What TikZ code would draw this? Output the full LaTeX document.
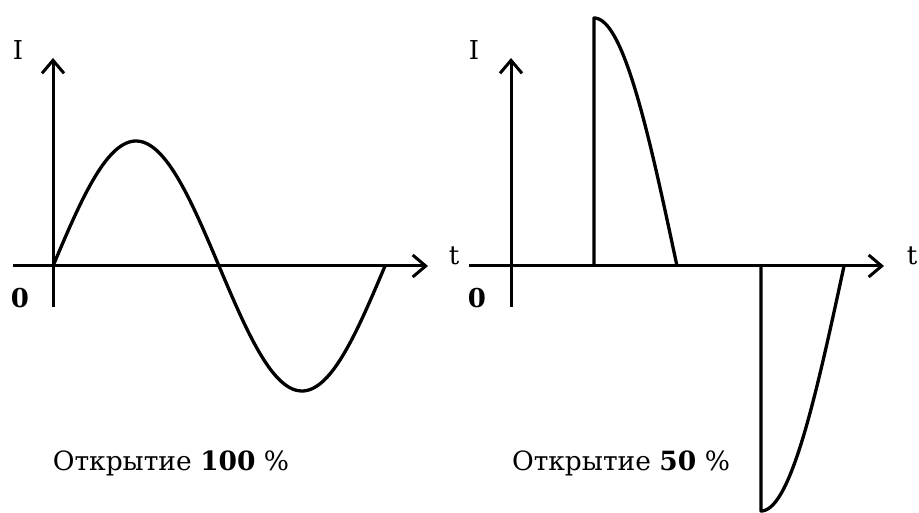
\documentclass[tikz,border=0pt]{standalone}
\usepackage{fontspec}
\setmainfont{DejaVu Serif}
\usetikzlibrary{arrows.meta}
\begin{document}
\begin{tikzpicture}[x=1pt,y=-1pt,
  axis/.style={line width=3pt,-{Straight Barb[length=13pt,width=22pt,line width=3pt]}},
  wave/.style={line width=3.3pt,line join=round,line cap=butt},
  lbl/.style={font=\fontsize{26}{30}\selectfont,inner sep=0pt},
  captiontext/.style={font=\fontsize{26.5}{30}\selectfont,inner sep=0pt}]
\useasboundingbox (0,0) rectangle (919,513);
% left graph
\coordinate (Lx0) at (13,266);
\coordinate (Lx1) at (428,266);
\coordinate (Ly0) at (53,307);
\coordinate (Ly1) at (53,58);
\draw[axis] (Lx0) -- (Lx1);
\draw[axis] (Ly0) -- (Ly1);
\draw[wave] plot[domain=0:360,samples=120,smooth] ({53+\x*0.92222},{266-125*sin(\x)});
\node[lbl] (LI) at (18,50) {I};
\node[lbl] (Lt) at (454,256) {t};
\node[lbl] (L0) at (20,298) {\textbf{0}};
\node[captiontext] (Lc) at (171,463) {Открытие \textbf{100} \%};
% right graph
\coordinate (Rx0) at (469,266);
\coordinate (Rx1) at (884,266);
\coordinate (Ry0) at (511,307);
\coordinate (Ry1) at (511,58);
\draw[axis] (Rx0) -- (Rx1);
\draw[axis] (Ry0) -- (Ry1);
\draw[wave] (594,266) -- plot[domain=90:180,samples=60,smooth] ({594+(\x-90)*0.92222},{266-248*sin(\x)});
\draw[wave] (761,266) -- plot[domain=270:360,samples=60,smooth] ({761+(\x-270)*0.92222},{266-245*sin(\x)});
\node[lbl] (RI) at (474,50) {I};
\node[lbl] (Rt) at (912,256) {t};
\node[lbl] (R0) at (477,298) {\textbf{0}};
\node[captiontext] (Rc) at (621,463) {Открытие \textbf{50} \%};
\end{tikzpicture}
\end{document}
